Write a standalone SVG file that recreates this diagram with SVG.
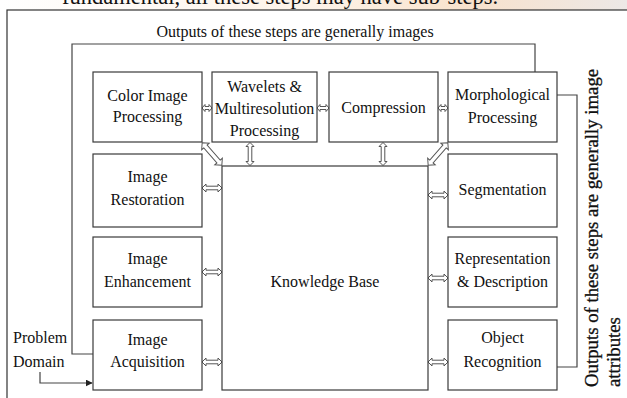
<svg xmlns="http://www.w3.org/2000/svg" xmlns:xlink="http://www.w3.org/1999/xlink" width="627" height="398" viewBox="0 0 627 398">
<style>
.box{fill:#fff;stroke:#3a3a3a;stroke-width:1.2}
.t{font-family:"Liberation Serif","Times New Roman",serif;font-size:16px;fill:#111;text-anchor:middle}
.tl{font-family:"Liberation Serif","Times New Roman",serif;font-size:16px;fill:#111}
.conn{fill:none;stroke:#444;stroke-width:1.2}
.da{fill:#fff;stroke:#555;stroke-width:1}
</style>
<defs>
<linearGradient id="topg" x1="0" y1="0" x2="1" y2="0">
<stop offset="0" stop-color="#ffffff"/>
<stop offset="0.5" stop-color="#fdf3e8"/>
<stop offset="0.75" stop-color="#f8e2cc"/>
<stop offset="1" stop-color="#ede8e6"/>
</linearGradient>
<path id="da10" d="M-5,0 L-2,-3.5 L-2,-1.5 L2,-1.5 L2,-3.5 L5,0 L2,3.5 L2,1.5 L-2,1.5 L-2,3.5 Z"/>
<path id="da12" d="M-6,0 L-3,-3.5 L-3,-1.5 L3,-1.5 L3,-3.5 L6,0 L3,3.5 L3,1.5 L-3,1.5 L-3,3.5 Z"/>
<path id="da20" d="M-10,0 L-6,-4 L-6,-1.8 L6,-1.8 L6,-4 L10,0 L6,4 L6,1.8 L-6,1.8 L-6,4 Z"/>
<path id="da23" d="M-11.5,0 L-7.5,-4 L-7.5,-1.8 L7.5,-1.8 L7.5,-4 L11.5,0 L7.5,4 L7.5,1.8 L-7.5,1.8 L-7.5,4 Z"/>
<path id="da30" d="M-15,0 L-10,-5 L-10,-2.2 L10,-2.2 L10,-5 L15,0 L10,5 L10,2.2 L-10,2.2 L-10,5 Z"/>
<marker id="ah" viewBox="0 0 10 10" refX="9" refY="5" markerWidth="7" markerHeight="7" markerUnits="userSpaceOnUse" orient="auto">
<path d="M0,0 L10,5 L0,10 Z" fill="#222"/>
</marker>
</defs>
<rect x="0" y="0" width="627" height="398" fill="#fff"/>
<rect x="0" y="0" width="627" height="10" fill="url(#topg)"/>
<text x="280" y="4" class="tl" style="font-size:22.5px;text-anchor:middle">fundamental, all these steps may have sub-steps.</text>
<rect x="7" y="10" width="640" height="400" fill="none" stroke="#333" stroke-width="1.2"/>
<text x="295" y="37" class="t">Outputs of these steps are generally images</text>

<g id="connectors">
<polyline class="conn" points="535,72 535,44 72,44 72,354 93,354" stroke="#666"/>
<polyline class="conn" points="557,95 577,95 577,367 557,367" stroke="#222"/>
<polyline class="conn" points="40,372 40,383 92,383" stroke="#222" marker-end="url(#ah)"/>
<use href="#da10" class="da" transform="translate(207,108)"/>
<use href="#da12" class="da" transform="translate(323,108)"/>
<use href="#da10" class="da" transform="translate(443,108)"/>
<use href="#da23" class="da" transform="translate(250,154) rotate(90)"/>
<use href="#da23" class="da" transform="translate(383,154) rotate(90)"/>
<use href="#da30" class="da" transform="translate(212,154) rotate(49)"/>
<use href="#da30" class="da" transform="translate(438,154) rotate(-49)"/>
<use href="#da20" class="da" transform="translate(212,188)"/>
<use href="#da20" class="da" transform="translate(212,272)"/>
<use href="#da20" class="da" transform="translate(212,362)"/>
<use href="#da20" class="da" transform="translate(438,195)"/>
<use href="#da20" class="da" transform="translate(438,278)"/>
<use href="#da20" class="da" transform="translate(438,362)"/>
</g>

<g id="color-image-processing"><rect class="box" x="93" y="72" width="109" height="70"/><text class="t" x="147.5" y="101">Color Image</text><text class="t" x="147.5" y="122">Processing</text></g>
<g id="wavelets"><rect class="box" x="212" y="72" width="105" height="70"/><text class="t" x="264.5" y="92">Wavelets &amp;</text><text class="t" x="264.5" y="114">Multiresolution</text><text class="t" x="264.5" y="136">Processing</text></g>
<g id="compression"><rect class="box" x="329" y="72" width="109" height="70"/><text class="t" x="383.5" y="113">Compression</text></g>
<g id="morphological-processing"><rect class="box" x="448" y="72" width="109" height="70"/><text class="t" x="502.5" y="100">Morphological</text><text class="t" x="502.5" y="123">Processing</text></g>
<g id="image-restoration"><rect class="box" x="93" y="154" width="109" height="73"/><text class="t" x="147.5" y="182">Image</text><text class="t" x="147.5" y="205">Restoration</text></g>
<g id="image-enhancement"><rect class="box" x="93" y="237" width="109" height="70"/><text class="t" x="147.5" y="264">Image</text><text class="t" x="147.5" y="287">Enhancement</text></g>
<g id="image-acquisition"><rect class="box" x="93" y="320" width="109" height="70"/><text class="t" x="147.5" y="345">Image</text><text class="t" x="147.5" y="367">Acquisition</text></g>
<g id="segmentation"><rect class="box" x="448" y="154" width="109" height="73"/><text class="t" x="502.5" y="195">Segmentation</text></g>
<g id="representation-description"><rect class="box" x="448" y="237" width="109" height="70"/><text class="t" x="502.5" y="264">Representation</text><text class="t" x="502.5" y="287">&amp; Description</text></g>
<g id="object-recognition"><rect class="box" x="448" y="320" width="109" height="70"/><text class="t" x="502.5" y="343">Object</text><text class="t" x="502.5" y="367">Recognition</text></g>
<g id="knowledge-base"><rect class="box" x="222" y="166" width="206" height="224"/><text class="t" x="325" y="287">Knowledge Base</text></g>
<g id="problem-domain"><text class="tl" x="13" y="343">Problem</text><text class="tl" x="13" y="367">Domain</text></g>
<g id="side-label" font-family="'Liberation Serif','Times New Roman',serif" font-size="18.8px" fill="#111" stroke="#111" stroke-width="0.3">
<text transform="translate(598,387) rotate(-90)">Outputs of these steps are generally image</text>
<text transform="translate(620,387) rotate(-90)">attributes</text>
</g>
</svg>
